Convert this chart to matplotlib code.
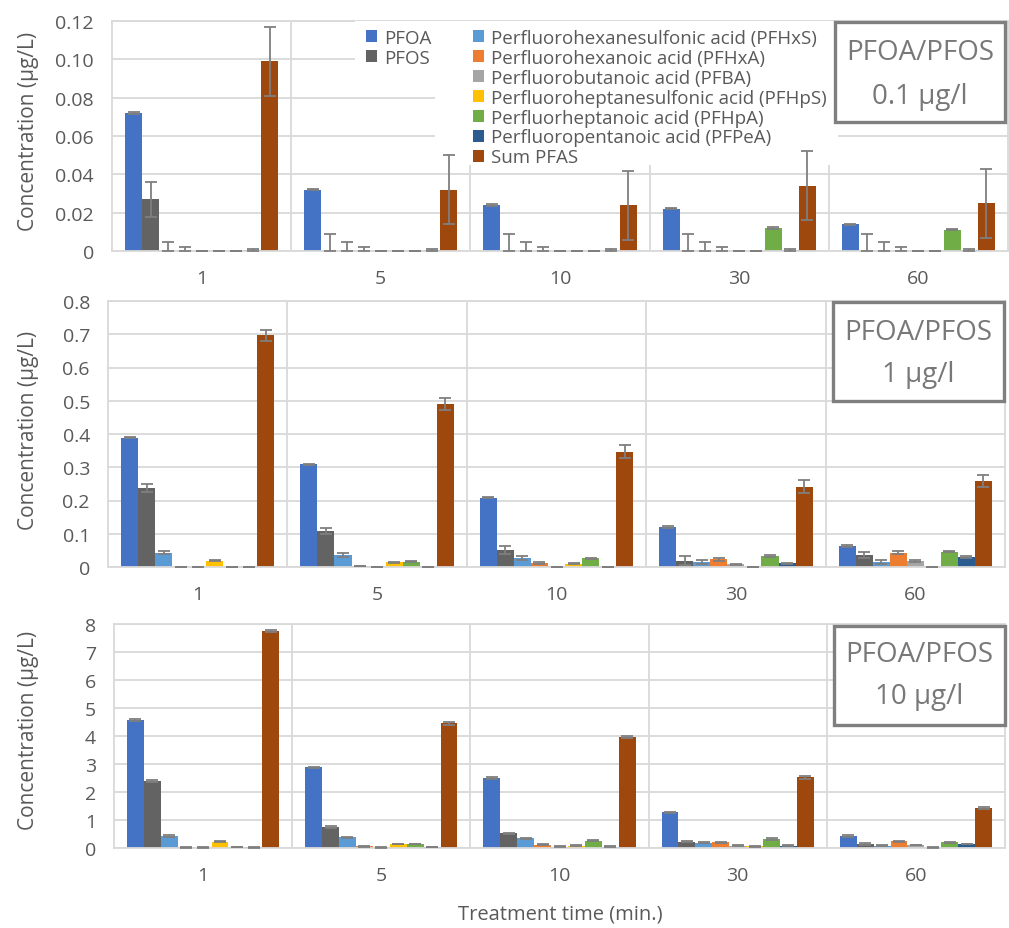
import numpy as np
import matplotlib
matplotlib.use('Agg')
import matplotlib.pyplot as plt
from matplotlib.patches import Patch, Rectangle

plt.rcParams['font.family'] = ['Open Sans', 'DejaVu Sans']

# Treatment times (min.) and measured compounds
times = ['1', '5', '10', '30', '60']
compounds = ['PFOA', 'PFOS',
             'Perfluorohexanesulfonic acid (PFHxS)',
             'Perfluorohexanoic acid (PFHxA)',
             'Perfluorobutanoic acid (PFBA)',
             'Perfluoroheptanesulfonic acid (PFHpS)',
             'Perfluorheptanoic acid (PFHpA)',
             'Perfluoropentanoic acid (PFPeA)',
             'Sum PFAS']
colors = ['#4472C4', '#636363', '#5B9BD5', '#ED7D31', '#A5A5A5',
          '#FFC000', '#70AD47', '#2A5C8F', '#9E480E']

# Initial PFOA/PFOS 0.1 µg/l (one row per compound, one column per time)
vals_01 = [
    [0.072, 0.032, 0.024, 0.022, 0.014],
    [0.027, 0, 0, 0, 0],
    [0, 0, 0, 0, 0],
    [0, 0, 0, 0, 0],
    [0, 0, 0, 0, 0],
    [0, 0, 0, 0, 0],
    [0, 0, 0, 0.012, 0.011],
    [0.0005, 0.0005, 0.0005, 0.0005, 0.0005],
    [0.099, 0.032, 0.024, 0.034, 0.025],
]
errs_01 = [
    [0.0003, 0.0003, 0.0003, 0.0003, 0.0003],
    [0.009, 0.009, 0.009, 0.009, 0.009],
    [0.0047, 0.0047, 0.0047, 0.0047, 0.0047],
    [0.002, 0.002, 0.002, 0.002, 0.002],
    [0, 0, 0, 0, 0],
    [0, 0, 0, 0, 0],
    [0, 0, 0, 0.0003, 0.0003],
    [0.0003, 0.0003, 0.0003, 0.0003, 0.0003],
    [0.018, 0.018, 0.018, 0.018, 0.018],
]

# Initial PFOA/PFOS 1 µg/l
vals_1 = [
    [0.389, 0.309, 0.209, 0.120, 0.063],
    [0.237, 0.108, 0.051, 0.019, 0.036],
    [0.043, 0.036, 0.028, 0.015, 0.015],
    [0, 0.002, 0.013, 0.023, 0.043],
    [0, 0, 0, 0.008, 0.018],
    [0.019, 0.014, 0.010, 0, 0],
    [0, 0.016, 0.026, 0.033, 0.046],
    [0, 0, 0, 0.011, 0.030],
    [0.697, 0.491, 0.347, 0.242, 0.259],
]
errs_1 = [
    [0.002, 0.002, 0.002, 0.002, 0.002],
    [0.012, 0.010, 0.012, 0.014, 0.010],
    [0.005, 0.006, 0.006, 0.006, 0.006],
    [0, 0, 0.003, 0.004, 0.004],
    [0, 0, 0, 0.002, 0.002],
    [0.002, 0.002, 0.002, 0, 0],
    [0, 0.002, 0.002, 0.002, 0.002],
    [0, 0, 0, 0.002, 0.002],
    [0.017, 0.018, 0.019, 0.019, 0.019],
]

# Initial PFOA/PFOS 10 µg/l
vals_10 = [
    [4.58, 2.88, 2.49, 1.27, 0.42],
    [2.39, 0.74, 0.52, 0.23, 0.15],
    [0.43, 0.38, 0.35, 0.19, 0.08],
    [0.02, 0.06, 0.12, 0.20, 0.24],
    [0.01, 0.02, 0.05, 0.08, 0.11],
    [0.23, 0.14, 0.08, 0.06, 0.01],
    [0.04, 0.14, 0.26, 0.32, 0.20],
    [0.02, 0.04, 0.05, 0.08, 0.14],
    [7.75, 4.45, 3.97, 2.52, 1.43],
]
errs_10 = [
    [0.03, 0.03, 0.03, 0.03, 0.03],
    [0.03, 0.03, 0.03, 0.03, 0.03],
    [0.02, 0.02, 0.02, 0.02, 0.02],
    [0.01, 0.01, 0.01, 0.01, 0.01],
    [0.01, 0.01, 0.01, 0.01, 0.01],
    [0.02, 0.01, 0.01, 0.01, 0.01],
    [0.01, 0.01, 0.02, 0.02, 0.02],
    [0.01, 0.01, 0.01, 0.01, 0.01],
    [0.04, 0.04, 0.04, 0.04, 0.04],
]

W, H = 1009, 929
fig = plt.figure(figsize=(W / 100, H / 100), dpi=100)
text_col = '#595959'
grid_col = '#d9d9d9'


def box(l, t, r, b):
    return [l / W, 1 - b / H, (r - l) / W, (b - t) / H]


def fig_rect(l, t, r, b, **kw):
    return Rectangle((l / W, 1 - b / H), (r - l) / W, (b - t) / H,
                     transform=fig.transFigure, **kw)


panels = [
    dict(rect=box(112, 22, 1008, 252), vals=vals_01, errs=errs_01,
         ymax=0.12, step=0.02, fmt='{:.2f}', label='0.1 µg/l',
         frame=(835, 23, 1005, 123), lines=(53, 97), ylab=131),
    dict(rect=box(108, 302, 1005, 568), vals=vals_1, errs=errs_1,
         ymax=0.8, step=0.1, fmt='{:.1f}', label='1 µg/l',
         frame=(833, 303, 1004, 402), lines=(333, 375), ylab=430),
    dict(rect=box(114, 625, 1005, 849), vals=vals_10, errs=errs_10,
         ymax=8, step=1, fmt='{:.0f}', label='10 µg/l',
         frame=(834, 627, 1005, 726), lines=(655, 697), ylab=730),
]

x = np.arange(len(times))
width = 0.095
offsets = (np.arange(len(compounds)) - 4) * width

for p in panels:
    ax = fig.add_axes(p['rect'])
    for i in range(len(compounds)):
        v = np.array(p['vals'][i], dtype=float)
        e = np.array(p['errs'][i], dtype=float)
        ax.bar(x + offsets[i], v, width, color=colors[i], zorder=2)
        eb = ax.errorbar(x + offsets[i], v, yerr=[np.minimum(e, v), e],
                         fmt='none', ecolor='#7f7f7f', elinewidth=1.3,
                         capsize=4, capthick=1.3, zorder=6)
        for art in list(eb.lines[1]) + list(eb.lines[2]):
            art.set_clip_on(False)

    ax.set_xlim(-0.5, len(times) - 0.5)
    ax.set_ylim(0, p['ymax'])
    ticks = np.arange(0, p['ymax'] + p['step'] / 2, p['step'])
    ax.set_yticks(ticks)
    ax.set_yticklabels([p['fmt'].format(t) if t else '0' for t in ticks])
    ax.set_xticks(x)
    ax.set_xticklabels(times)
    ax.tick_params(length=0, labelsize=14, labelcolor=text_col)
    ax.tick_params(axis='y', pad=13)
    ax.tick_params(axis='x', pad=13)
    ax.yaxis.grid(True, color=grid_col, lw=1.3)
    for sep in x[:-1] + 0.5:
        ax.axvline(sep, color=grid_col, lw=1.3, zorder=0.5)
    ax.set_axisbelow(True)
    for s in ax.spines.values():
        s.set_color(grid_col)
        s.set_linewidth(1.3)

    fig.text(29 / W, 1 - p['ylab'] / H, 'Concentration (µg/L)', rotation=90,
             ha='center', va='center', fontsize=15, color=text_col)

    l, t, r, b = p['frame']
    fig.patches.append(fig_rect(l, t, r, b, facecolor='white',
                                edgecolor='#7f7f7f', lw=2.4, zorder=10))
    cx = (l + r) / 2 / W
    fig.text(cx, 1 - p['lines'][0] / H, 'PFOA/PFOS', ha='center', va='center',
             fontsize=20, color='#787878', zorder=11)
    fig.text(cx, 1 - p['lines'][1] / H, p['label'], ha='center', va='center',
             fontsize=20, color='#787878', zorder=11)

    if p is panels[0]:
        # white legend areas over the gridlines
        ax.add_patch(fig_rect(355, 22, 435, 75, facecolor='white',
                              edgecolor='none', zorder=4))
        ax.add_patch(fig_rect(435, 22, 838, 166, facecolor='white',
                              edgecolor='none', zorder=4))
        handles = [Patch(facecolor=c, label=n) for c, n in zip(colors, compounds)]
        common = dict(loc='upper left', bbox_transform=fig.transFigure,
                      frameon=False, fontsize=13.5, labelcolor=text_col,
                      handlelength=0.6, handleheight=0.6, handletextpad=0.35,
                      labelspacing=0.1, borderpad=0, borderaxespad=0)
        leg1 = ax.legend(handles=handles[:2], bbox_to_anchor=(366 / W, 1 - 30 / H), **common)
        leg1.set_zorder(5)
        ax.add_artist(leg1)
        leg2 = ax.legend(handles=handles[2:], bbox_to_anchor=(473 / W, 1 - 30 / H), **common)
        leg2.set_zorder(5)

fig.text(560 / W, 1 - 915 / H, 'Treatment time (min.)', ha='center', va='center',
         fontsize=14.5, color=text_col)

fig.savefig('out.png', dpi=100)
